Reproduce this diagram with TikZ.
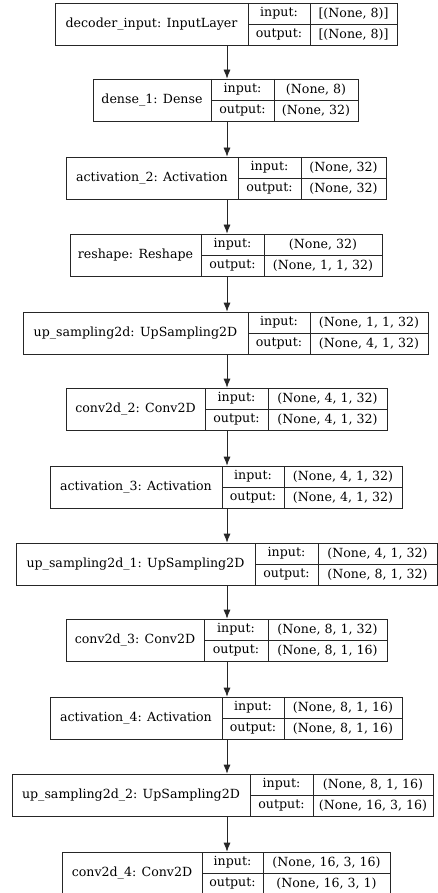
\documentclass[tikz,border=0pt]{standalone}
\usepackage{fontspec}
\setmainfont{DejaVu Serif}
\usetikzlibrary{arrows.meta}

\tikzset{
    cell/.style={inner sep=0pt, font=\fontsize{12.6}{14}\selectfont},
    frame/.style={draw=black!85, line width=0.7pt},
    flow/.style={draw=black!85, line width=0.7pt, -{Latex[length=9pt,width=7pt]}},
}

% #1 name, #2 top, #3 left, #4 first divider, #5 second divider, #6 right,
% #7 layer text, #8 input shape, #9 output shape
\newcommand{\layerbox}[9]{%
    \node[frame, minimum width={#6pt-#3pt}, minimum height=42pt, inner sep=0pt]
        (#1) at ({(#3+#6)/2},{#2+21}) {};
    \draw[frame] (#4,#2) -- (#4,#2+42);
    \draw[frame] (#5,#2) -- (#5,#2+42);
    \draw[frame] (#4,#2+21) -- (#6,#2+21);
    \node[cell] (#1-name) at ({(#3+#4)/2},{#2+21}) {#7};
    \node[cell] (#1-inkey) at ({(#4+#5)/2},{#2+10.5}) {input:};
    \node[cell] (#1-outkey) at ({(#4+#5)/2},{#2+31.5}) {output:};
    \node[cell] (#1-in) at ({(#5+#6)/2},{#2+10.5}) {#8};
    \node[cell] (#1-out) at ({(#5+#6)/2},{#2+31.5}) {#9};
}

\begin{document}
\begin{tikzpicture}[x=1pt, y=-1pt]
        \useasboundingbox (0,0) rectangle (438,893);
        % Layers
        \layerbox{decin}{3}{55}{248}{310}{397}{decoder\_input: InputLayer}{[(None, 8)]}{[(None, 8)]}
        \layerbox{dense}{79}{93}{211}{274}{358}{dense\_1: Dense}{(None, 8)}{(None, 32)}
        \layerbox{acttwo}{157}{66}{238}{301}{386}{activation\_2: Activation}{(None, 32)}{(None, 32)}
        \layerbox{reshape}{234}{70}{201}{264}{382}{reshape: Reshape}{(None, 32)}{(None, 1, 1, 32)}
        \layerbox{upzero}{312}{23}{248}{310}{428}{up\_sampling2d: UpSampling2D}{(None, 1, 1, 32)}{(None, 4, 1, 32)}
        \layerbox{convtwo}{388}{66}{205}{268}{387}{conv2d\_2: Conv2D}{(None, 4, 1, 32)}{(None, 4, 1, 32)}
        \layerbox{actthree}{466}{50}{222}{284}{402}{activation\_3: Activation}{(None, 4, 1, 32)}{(None, 4, 1, 32)}
        \layerbox{upone}{543}{16}{255}{318}{437}{up\_sampling2d\_1: UpSampling2D}{(None, 4, 1, 32)}{(None, 8, 1, 32)}
        \layerbox{convthree}{619}{66}{204}{268}{387}{conv2d\_3: Conv2D}{(None, 8, 1, 32)}{(None, 8, 1, 16)}
        \layerbox{actfour}{697}{50}{222}{284}{402}{activation\_4: Activation}{(None, 8, 1, 16)}{(None, 8, 1, 16)}
        \layerbox{uptwo}{774}{12}{250}{313}{433}{up\_sampling2d\_2: UpSampling2D}{(None, 8, 1, 16)}{(None, 16, 3, 16)}
        \layerbox{convfour}{852}{62}{202}{263}{390}{conv2d\_4: Conv2D}{(None, 16, 3, 16)}{(None, 16, 3, 1)}
        % Arrows
        \coordinate (axis) at (227,0);
        \foreach \a/\b in {decin/dense, dense/acttwo, acttwo/reshape, reshape/upzero,
                upzero/convtwo, convtwo/actthree, actthree/upone, upone/convthree,
                convthree/actfour, actfour/uptwo, uptwo/convfour}
            \draw[flow] (\a.south -| axis) -- (\b.north -| axis);
\end{tikzpicture}
\end{document}
